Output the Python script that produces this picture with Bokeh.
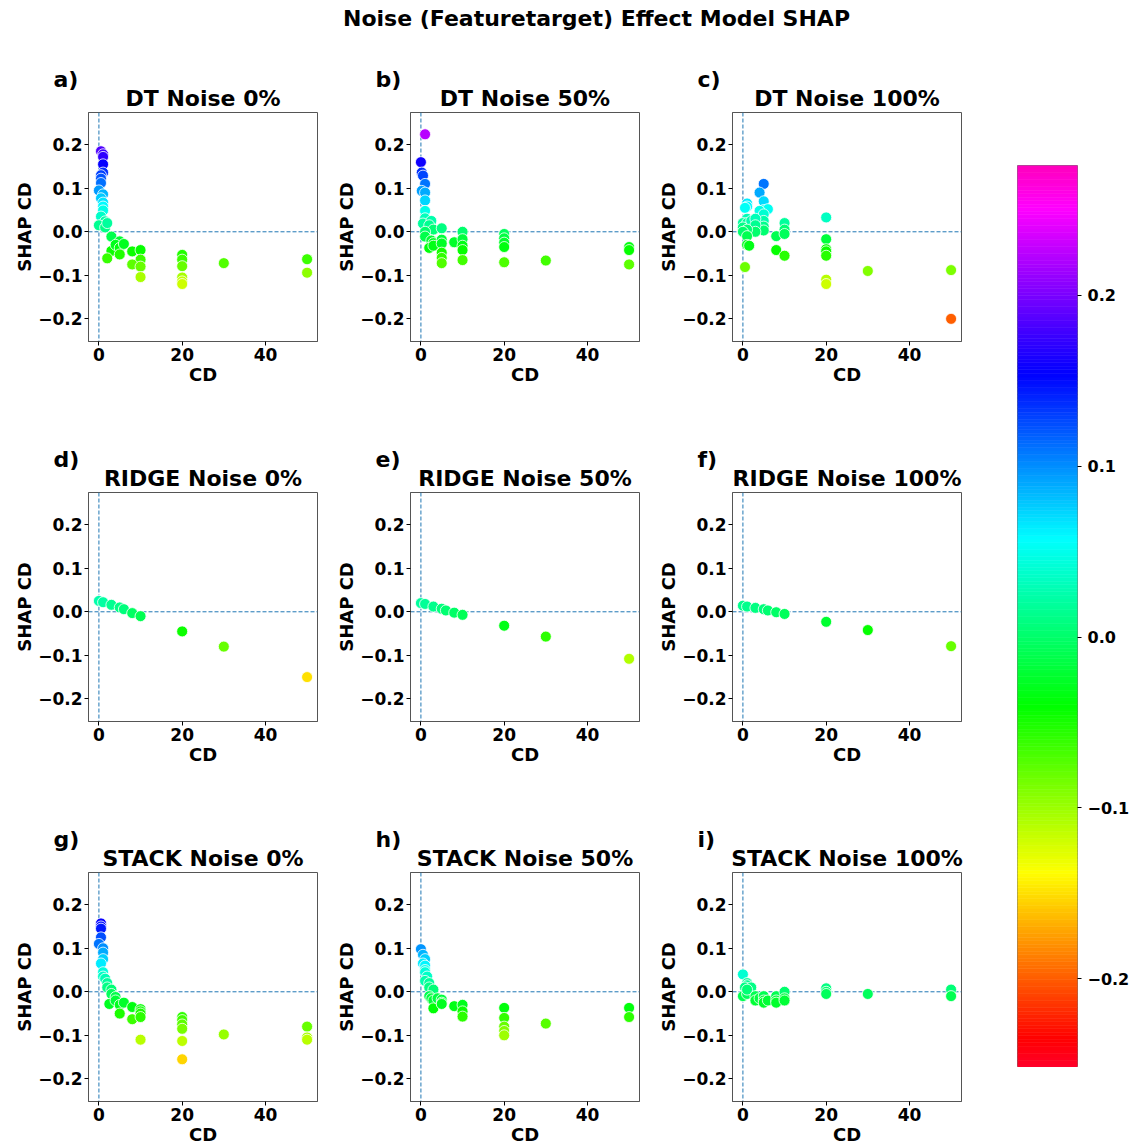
import numpy as np
from bokeh.plotting import figure
from bokeh.layouts import column, row
from bokeh.models import Range1d, FixedTicker, CustomJSTickFormatter, Span, Title, ColumnDataSource
from bokeh.transform import linear_cmap
from bokeh.core.properties import value
from bokeh.embed import file_html
from bokeh.resources import INLINE

# ---------------- data ----------------
suptitle = "Noise (Featuretarget) Effect Model SHAP"
panel_letters = ["a)", "b)", "c)", "d)", "e)", "f)", "g)", "h)", "i)"]
panel_titles = ["DT Noise 0%", "DT Noise 50%", "DT Noise 100%",
                "RIDGE Noise 0%", "RIDGE Noise 50%", "RIDGE Noise 100%",
                "STACK Noise 0%", "STACK Noise 50%", "STACK Noise 100%"]

a_cd = [0.5, 1, 1, 1, 1, 0.5, 0.5, 0.5, 0, 1, 0.5, 1, 1, 1, 0.5, 1.5, 0, 1.5, 2, 3, 5, 3, 4, 5, 6, 5, 2, 8, 10, 10, 8, 10, 10,
        20, 20, 20, 20, 20, 20, 30, 50, 50]
a_shap = [0.185, 0.178, 0.172, 0.155, 0.136, 0.13, 0.122, 0.112, 0.095, 0.086, 0.077, 0.067, 0.058, 0.049, 0.035, 0.024, 0.015, 0.01,
          0.02, -0.011, -0.022, -0.044, -0.03, -0.037, -0.028, -0.052, -0.061, -0.045, -0.042, -0.064, -0.075, -0.08, -0.104,
          -0.053, -0.064, -0.079, -0.105, -0.114, -0.12, -0.072, -0.063, -0.094]

b_cd = [1, 0, 0.2, 0.5, 1, 0.2, 1, 1, 1, 1, 0.5, 2.5, 2, 3, 5, 1, 1, 2.5, 3, 5, 2, 3, 5, 8, 10, 10, 10, 10, 5, 5, 5, 10,
        20, 20, 20, 20, 20, 30, 50, 50, 50]
b_shap = [0.224, 0.16, 0.136, 0.129, 0.11, 0.094, 0.09, 0.072, 0.048, 0.031, 0.019, 0.025, 0.015, 0.005, 0.008, 0.0, -0.011,
          -0.02, -0.026, -0.018, -0.037, -0.032, -0.027, -0.024, 0.0, -0.017, -0.032, -0.042, -0.048, -0.06, -0.072, -0.065,
          -0.005, -0.015, -0.025, -0.035, -0.07, -0.066, -0.035, -0.042, -0.075]

c_cd = [5, 4, 5, 1, 1, 0.5, 5, 6, 4, 5, 5, 5, 5, 1, 0, 1, 0, 2, 3, 3, 3, 1, 0, 1, 1, 1.5, 0.5, 8, 8, 10, 10, 10, 10,
        20, 20, 20, 20, 20, 20, 20, 30, 50, 50]
c_shap = [0.11, 0.09, 0.07, 0.065, 0.058, 0.055, 0.05, 0.052, 0.048, 0.04, 0.025, 0.012, 0.003, 0.03, 0.02, 0.02, 0.01, 0.025,
          0.03, 0.015, 0.0, 0.005, 0.0, -0.01, -0.03, -0.032, -0.081, -0.01, -0.042, 0.02, 0.005, -0.005, -0.055,
          0.033, -0.017, -0.04, -0.045, -0.055, -0.11, -0.12, -0.09, -0.088, -0.2]

d_cd = [0, 1, 3, 5, 6, 8, 10, 20, 30, 50]
d_shap = [0.025, 0.022, 0.016, 0.01, 0.006, -0.003, -0.01, -0.045, -0.08, -0.15]

e_cd = [0, 1, 3, 5, 6, 8, 10, 20, 30, 50]
e_shap = [0.02, 0.018, 0.012, 0.007, 0.003, -0.002, -0.007, -0.032, -0.057, -0.108]

f_cd = [0, 1, 3, 5, 6, 8, 10, 20, 30, 50]
f_shap = [0.014, 0.012, 0.009, 0.006, 0.003, -0.001, -0.005, -0.023, -0.042, -0.079]

g_cd = [0.5, 0.5, 0.5, 0.5, 0, 1, 1, 1, 0.5, 1, 1, 1.5, 2, 2, 3, 3, 4, 2.5, 4, 5, 5, 6, 8, 8, 10, 10, 10, 10, 10,
        20, 20, 20, 20, 20, 20, 30, 50, 50, 50]
g_shap = [0.157, 0.15, 0.145, 0.125, 0.11, 0.1, 0.09, 0.075, 0.065, 0.045, 0.035, 0.03, 0.02, 0.01, 0.005, -0.005, -0.012,
          -0.028, -0.02, -0.03, -0.05, -0.025, -0.035, -0.063, -0.04, -0.045, -0.05, -0.058, -0.11,
          -0.058, -0.065, -0.075, -0.085, -0.113, -0.155, -0.098, -0.08, -0.105, -0.11]

h_cd = [0, 0.5, 1, 0.5, 1, 1, 1, 1.5, 1, 2, 2, 3, 2, 2.5, 3, 3, 4, 5, 5, 5, 8, 10, 10, 10,
        20, 20, 20, 20, 20, 30, 50, 50]
h_shap = [0.098, 0.085, 0.075, 0.065, 0.06, 0.05, 0.045, 0.035, 0.025, 0.02, 0.01, 0.005, -0.01, -0.015, -0.02, -0.038,
          -0.015, -0.018, -0.025, -0.028, -0.033, -0.03, -0.045, -0.057, -0.037, -0.06, -0.08, -0.09, -0.1, -0.073,
          -0.037, -0.058]

i_cd = [0, 1, 1, 0.5, 2, 0, 1, 1, 3, 3, 4, 5, 5, 5, 6, 8, 8, 8, 10, 10, 10, 20, 20, 20, 30, 50, 50]
i_shap = [0.04, 0.02, 0.015, 0.01, 0.01, -0.01, -0.005, 0.005, -0.01, -0.02, -0.015, -0.01, -0.02, -0.025, -0.02, -0.01,
          -0.02, -0.025, 0.0, -0.015, -0.02, 0.008, 0.0, -0.005, -0.005, 0.005, -0.01]

x_ticks = [0, 20, 40]
y_ticks = [-0.2, -0.1, 0.0, 0.1, 0.2]
cbar_ticks = [-0.2, -0.1, 0.0, 0.1, 0.2]
color_low, color_high = -0.252, 0.276

panels_cd = [a_cd, b_cd, c_cd, d_cd, e_cd, f_cd, g_cd, h_cd, i_cd]
panels_shap = [a_shap, b_shap, c_shap, d_shap, e_shap, f_shap, g_shap, h_shap, i_shap]

# ---------------- colormap (matplotlib gist_rainbow) ----------------
GR = [(0.000, (1.00, 0.00, 0.16)), (0.030, (1.00, 0.00, 0.00)), (0.215, (1.00, 1.00, 0.00)),
      (0.400, (0.00, 1.00, 0.00)), (0.586, (0.00, 1.00, 1.00)), (0.770, (0.00, 0.00, 1.00)),
      (0.954, (1.00, 0.00, 1.00)), (1.000, (1.00, 0.00, 0.75))]
pos = [g[0] for g in GR]
tt = np.linspace(0, 1, 256)
chan = [np.interp(tt, pos, [g[1][k] for g in GR]) for k in range(3)]
palette = ["#%02x%02x%02x" % (int(round(r * 255)), int(round(g * 255)), int(round(b * 255)))
           for r, g, b in zip(*chan)]

FONT = "DejaVu Sans"
fmt_y = CustomJSTickFormatter(code="return (tick < -1e-9 ? '\u2212' : '') + Math.abs(tick).toFixed(1);")

FW, FH = 229, 229
ROW_H = 380
TOP_H = 42
MT = 70


def make_panel(k):
    first_col = (k % 3 == 0)
    last_row = k >= 6
    left = 88 if first_col else 80
    p = figure(x_range=Range1d(-2.5, 52.5), y_range=Range1d(-0.252, 0.274),
               frame_width=FW, frame_height=FH,
               min_border_left=left, min_border_right=13, min_border_top=MT,
               min_border_bottom=(0 if last_row else ROW_H - MT - FH),
               output_backend="svg", toolbar_location=None)
    # panel title (inner, next to frame) then panel letter (outer)
    p.add_layout(Title(text=panel_titles[k], align="center", standoff=4,
                       text_font=FONT, text_font_size="22px", text_font_style="bold",
                       text_color="black"), "above")
    p.add_layout(Title(text=panel_letters[k], align="left", offset=-35, standoff=-20,
                       text_font=FONT, text_font_size="22px", text_font_style="bold",
                       text_color="black"), "above")
    p.xgrid.visible = False
    p.ygrid.visible = False
    p.outline_line_color = "#555555"
    p.background_fill_color = "white"
    p.border_fill_color = "white"
    for ax in (p.xaxis[0], p.yaxis[0]):
        ax.axis_line_color = "#555555"
        ax.major_tick_line_color = "black"
        ax.major_tick_out = 4
        ax.major_tick_in = 0
        ax.minor_tick_line_color = None
        ax.major_label_text_font = FONT
        ax.major_label_text_font_size = "17px"
        ax.major_label_text_font_style = "bold"
        ax.major_label_text_color = "black"
        ax.axis_label_text_font = FONT
        ax.axis_label_text_font_size = "18px"
        ax.axis_label_text_font_style = "bold"
        ax.axis_label_text_color = "black"
    p.xaxis.major_label_standoff = 2
    p.xaxis.axis_label_standoff = 0
    p.yaxis.major_label_standoff = 2
    p.yaxis.axis_label_standoff = 0
    p.xaxis.ticker = FixedTicker(ticks=x_ticks)
    p.yaxis.ticker = FixedTicker(ticks=y_ticks)
    p.yaxis.formatter = fmt_y
    p.xaxis.axis_label = "CD"
    p.yaxis.axis_label = "SHAP CD"

    p.add_layout(Span(location=0, dimension="width", line_color="#1f77b4", line_dash="4 2",
                      line_width=1, level="underlay"))
    p.add_layout(Span(location=0, dimension="height", line_color="#1f77b4", line_dash="4 2",
                      line_width=1, level="underlay"))

    src = ColumnDataSource(dict(x=panels_cd[k], y=panels_shap[k]))
    p.scatter("x", "y", source=src, size=11, line_color="white", line_width=0.8,
              fill_color=linear_cmap("y", palette, color_low, color_high))
    return p


panels = [make_panel(k) for k in range(9)]

# ---------------- overall title ----------------
TW = 1127
tfig = figure(width=TW, height=TOP_H, x_range=Range1d(0, TW), y_range=Range1d(0, TOP_H),
              min_border=0, output_backend="svg", toolbar_location=None)
tfig.axis.visible = False
tfig.grid.visible = False
tfig.outline_line_color = None
tfig.text(x=[596], y=[TOP_H - 18], text=[suptitle], text_font=value(FONT), text_font_size="22px",
          text_font_style="bold", text_align="center", text_baseline="middle", text_color="black")

# ---------------- colour bar ----------------
edges = np.linspace(color_low, color_high, len(palette) + 1)
cfig = figure(x_range=Range1d(0, 1), y_range=Range1d(color_low, color_high),
              frame_width=60, frame_height=902, min_border_left=43, min_border_top=165 - TOP_H,
              min_border_right=40, min_border_bottom=0, y_axis_location="right",
              output_backend="svg", toolbar_location=None)
cfig.xaxis.visible = False
cfig.grid.visible = False
cfig.outline_line_color = "#777777"
cfig.quad(left=0, right=1, bottom=edges[:-1], top=edges[1:], fill_color=palette, line_color=palette,
          line_width=0.6)
yax = cfig.yaxis[0]
yax.ticker = FixedTicker(ticks=cbar_ticks)
yax.formatter = fmt_y
yax.axis_line_color = None
yax.major_tick_out = 4
yax.major_tick_in = 0
yax.minor_tick_line_color = None
yax.major_tick_line_color = "black"
yax.major_label_text_font = FONT
yax.major_label_text_font_size = "16px"
yax.major_label_text_font_style = "bold"
yax.major_label_text_color = "black"
yax.major_label_standoff = 6

grid = column(row(*panels[0:3]), row(*panels[3:6]), row(*panels[6:9]))
layout = column(tfig, row(grid, cfig))

open("out.html", "w").write(file_html(layout, INLINE))
